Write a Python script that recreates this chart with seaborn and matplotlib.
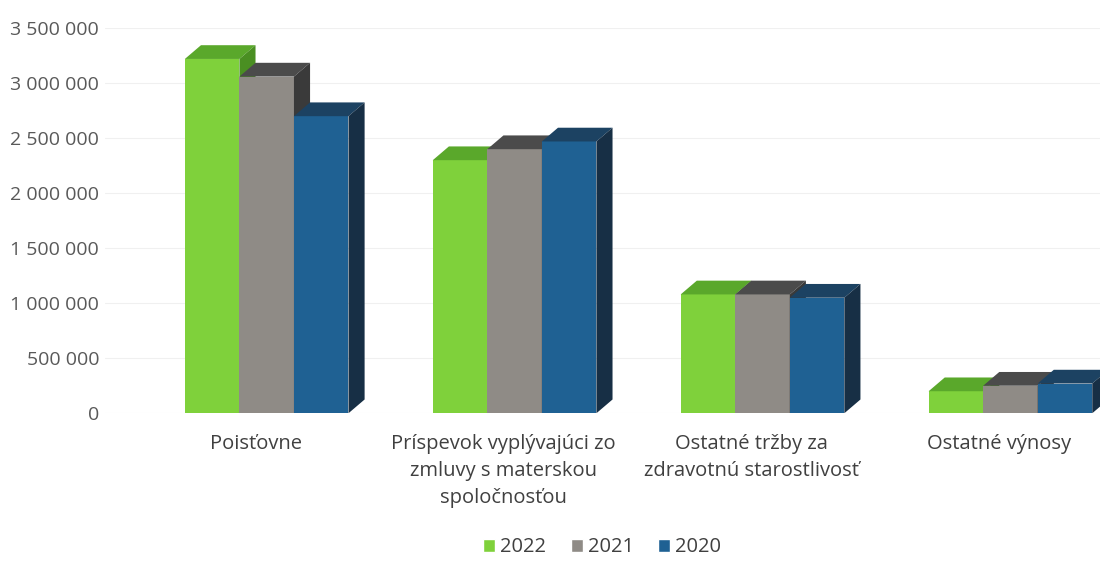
import matplotlib.pyplot as plt
import seaborn as sns
import numpy as np
import pandas as pd
from matplotlib.patches import Polygon
from matplotlib.ticker import FuncFormatter, MultipleLocator
from matplotlib.transforms import ScaledTranslation

# ---------- data ----------
categories = [
    "Poisťovne",
    "Príspevok vyplývajúci zo\nzmluvy s materskou\nspoločnosťou",
    "Ostatné tržby za\nzdravotnú starostlivosť",
    "Ostatné výnosy",
]
years = ["2022", "2021", "2020"]
v2022 = [3220000, 2300000, 1080000, 200000]
v2021 = [3060000, 2400000, 1080000, 250000]
v2020 = [2700000, 2470000, 1050000, 270000]

front_colors = ["#7fd13b", "#8f8b86", "#1f6193"]
top_colors = ["#5aa82b", "#4b4b4b", "#1c4262"]
side_colors = ["#4a8f22", "#3a3a3a", "#172f45"]

df = pd.DataFrame({
    "kategoria": categories * 3,
    "rok": [y for y in years for _ in categories],
    "hodnota": v2022 + v2021 + v2020,
})

sns.set_theme(style="white")
plt.rcParams["font.family"] = ["Open Sans", "DejaVu Sans"]

fig = plt.figure(figsize=(11.03, 5.63), dpi=100)
ax = fig.add_axes([0.095, 0.266, 0.902, 0.684])

sns.barplot(
    data=df, x="kategoria", y="hodnota", hue="rok",
    hue_order=years, palette=front_colors, width=0.66,
    saturation=1, ax=ax, legend=True,
)

# pseudo 3D - hlbka z geometrie stlpcov
dx = 0.065
dy = 125000
for i, cont in enumerate(ax.containers):
    for bar in cont:
        x0 = bar.get_x()
        w = bar.get_width()
        h = bar.get_height()
        bar.set_edgecolor("none")
        bar.set_linewidth(0)
        bar.set_zorder(3 + i)
        top = Polygon([(x0, h), (x0 + dx, h + dy), (x0 + w + dx, h + dy), (x0 + w, h)],
                      closed=True, facecolor=top_colors[i], edgecolor="none", zorder=3 + i)
        side = Polygon([(x0 + w, 0), (x0 + w, h), (x0 + w + dx, h + dy), (x0 + w + dx, dy)],
                       closed=True, facecolor=side_colors[i], edgecolor="none", zorder=3 + i)
        ax.add_patch(top)
        ax.add_patch(side)

ax.set_xlim(-0.653, 3.36)
ax.set_ylim(0, 3500000)
ax.yaxis.set_major_locator(MultipleLocator(500000))
ax.yaxis.set_major_formatter(FuncFormatter(lambda v, p: f"{v:,.0f}".replace(",", " ")))
ax.grid(axis="y", color="#f0f0f0", linewidth=0.8)
ax.set_axisbelow(True)
ax.set_xlabel("")
ax.set_ylabel("")
ax.tick_params(axis="y", length=0, labelsize=14, labelcolor="#595959", pad=4)
ax.tick_params(axis="x", length=0, labelsize=14.5, labelcolor="#404040", pad=15)
shift = ScaledTranslation(-11 / 100, 0, fig.dpi_scale_trans)
for lab in ax.get_xticklabels():
    lab.set_linespacing(1.45)
    lab.set_transform(lab.get_transform() + shift)
sns.despine(left=True, bottom=True)

handles, labels = ax.get_legend_handles_labels()
ax.get_legend().remove()
fig.legend(handles, labels, loc="lower center", bbox_to_anchor=(0.546, -0.022), ncol=3,
           frameon=False, fontsize=14.5, handlelength=0.6, handleheight=0.6,
           handletextpad=0.25, columnspacing=1.2, labelcolor="#404040")

plt.savefig("out.png", dpi=100)
